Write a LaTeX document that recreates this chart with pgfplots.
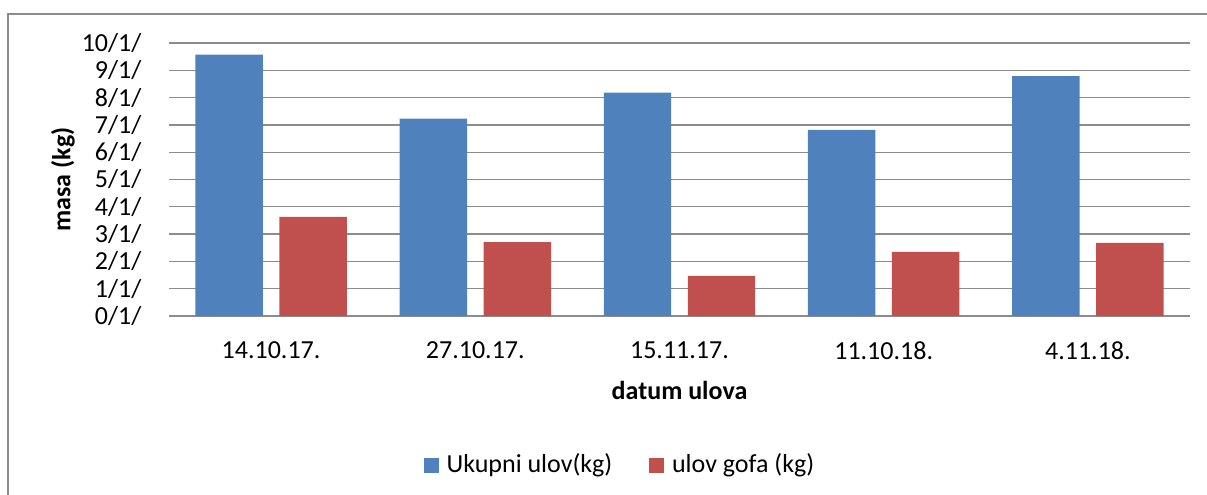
\documentclass[border=0pt]{standalone}
\usepackage{pgfplots}
\pgfplotsset{compat=1.18}
\usepackage{fontspec}
\setmainfont{Carlito}
\definecolor{ukupni}{HTML}{4F81BD}
\definecolor{gof}{HTML}{C0504D}
\definecolor{gridc}{HTML}{8C8C8C}
\begin{document}
\fontsize{19.5}{23}\selectfont
\begin{tikzpicture}
\begin{axis}[
    scale only axis,
    width=765.75pt, height=204.75pt,
    ybar, bar width=50.6pt,
    xmin=-0.5, xmax=4.5,
    ymin=0, ymax=10,
    xtick=data,
    xticklabels={14.10.17.,27.10.17.,15.11.17.,11.10.18.,4.11.18.},
    ytick={0,1,...,10},
    yticklabels={0/1/,1/1/,2/1/,3/1/,4/1/,5/1/,6/1/,7/1/,8/1/,9/1/,10/1/},
    /pgf/number format/assume math mode=true,
    major tick length=0pt,
    axis line style={draw=none},
    ymajorgrids, grid style={gridc, line width=1pt},
    clip=false,
    yticklabel style={anchor=east, xshift=-14pt},
    xticklabel style={anchor=center, yshift=-26pt},
    xlabel={\textbf{datum ulova}},
    xlabel style={at={(axis description cs:0.5,0)}, anchor=center, yshift=-55.5pt},
    ylabel={\textbf{masa (kg)}},
    ylabel style={at={(axis description cs:-0.1038,0.5)}, anchor=center},
    legend style={at={(axis description cs:0.442,0)}, yshift=-112pt, anchor=center, draw=none, fill=none,
        legend columns=2,
        /tikz/every odd column/.append style={column sep=4pt},
        /tikz/every even column/.append style={column sep=25.5pt},
        font=\fontsize{19.5}{23}\selectfont},
    legend image code/.code={\fill[#1] (0pt,-5.6pt) rectangle (11.25pt,5.6pt);},
]
\draw[gridc, line width=1.2pt] (rel axis cs:0,0) -- (rel axis cs:1,0);
\addplot[fill=ukupni, draw=none, bar shift=-31.5pt] coordinates {
(0,9.57) (1,7.23) (2,8.18) (3,6.82) (4,8.79)
};
\addlegendentry{Ukupni ulov(kg)}
\addplot[fill=gof, draw=none, bar shift=31.5pt] coordinates {
(0,3.63) (1,2.71) (2,1.47) (3,2.35) (4,2.68)
};
\addlegendentry{ulov gofa (kg)}
\end{axis}
\useasboundingbox ([xshift=-126.75pt, yshift=-134.25pt]current axis.south west) rectangle ([xshift=12.75pt, yshift=32.25pt]current axis.north east);
\draw[gridc, line width=1.5pt] ([xshift=-120.75pt, yshift=-134.25pt]current axis.south west) -- ([xshift=-120.75pt, yshift=21.75pt]current axis.north west) -- ([xshift=12.75pt, yshift=21.75pt]current axis.north east);
\end{tikzpicture}
\end{document}
